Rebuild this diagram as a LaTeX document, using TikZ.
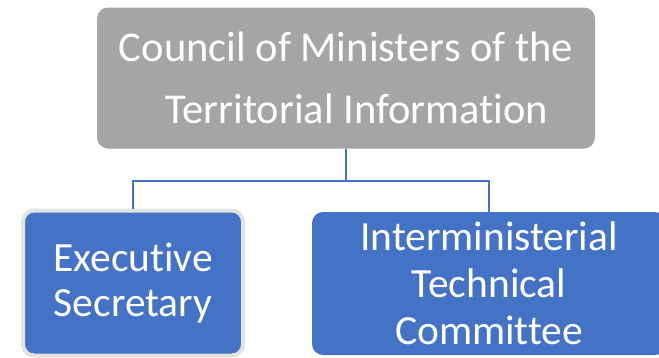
\documentclass[tikz,border=0pt]{standalone}
\usepackage{fontspec}
\setmainfont{Carlito}[Ligatures={NoCommon}]
\usepackage{tikz}

\definecolor{boxgray}{HTML}{A5A5A5}
\definecolor{boxblue}{HTML}{4472C4}
\definecolor{rimgray}{HTML}{E3E3E3}

\begin{document}
\begin{tikzpicture}[x=1pt, y=-1pt,
  box/.style={rounded corners=11pt, text=white, align=center, inner sep=0pt},
  link/.style={draw=boxblue, line width=2pt}]
  \useasboundingbox (0,0) rectangle (659,357);
  \clip (0,0) rectangle (659,357);

  \node[box, fill=boxgray, minimum width=498pt, minimum height=141pt,
        font=\fontsize{42.5}{62}\selectfont] (A) at (346,78)
        {Council of Ministers of the\\\hspace*{22pt}Territorial Information};

  \node[box, fill=boxblue, draw=rimgray, line width=4pt,
        minimum width=220pt, minimum height=145pt,
        font=\fontsize{41.5}{45}\selectfont] (B) at (133,283)
        {Executive\\Secretary};
  \node[box, fill=boxblue, minimum width=354pt, minimum height=143pt,
        font=\fontsize{41.5}{47}\selectfont] (C) at (489,283.5)
        {Interministerial\\Technical\\Committee};

  \coordinate (J) at (346,181);
  \draw[link] (A.south) -- (J) -| (B.north);
  \draw[link] (J) -| (C.north);
\end{tikzpicture}
\end{document}
